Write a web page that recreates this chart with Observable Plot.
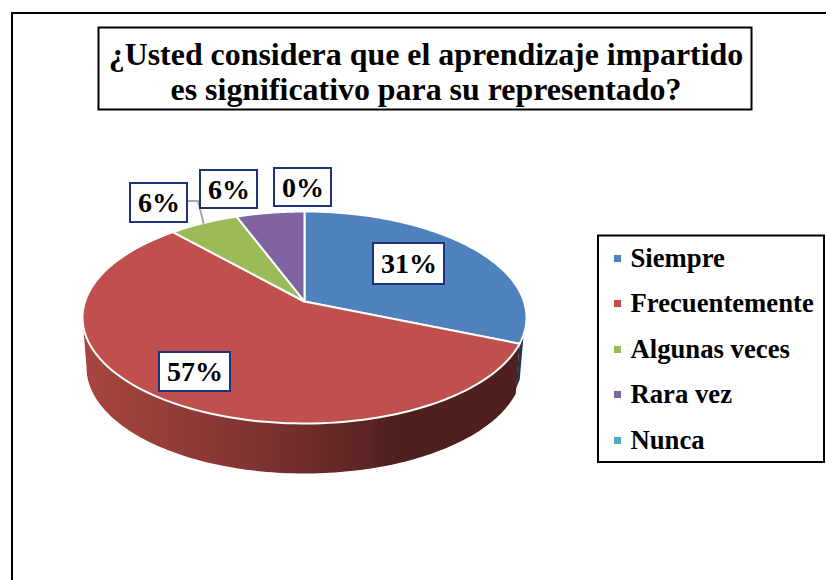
<!DOCTYPE html>
<html>
<head>
<meta charset="utf-8">
<script src="https://cdn.jsdelivr.net/npm/d3@7"></script>
<script src="https://cdn.jsdelivr.net/npm/@observablehq/plot@0.6"></script>
<style>html,body{margin:0;padding:0;background:#fff}svg{display:block}</style>
</head>
<body>
<div id="chart"></div>
<script>
const titleLines = ["¿Usted considera que el aprendizaje impartido", "es significativo para su representado?"];
const categories = ["Siempre", "Frecuentemente", "Algunas veces", "Rara vez", "Nunca"];
const values = [31, 57, 6, 6, 0];
const colours = ["#4f81bd", "#c0504d", "#9bbb59", "#8064a2", "#4bacc6"];

// Layout of the tilted disc, in page units
const pie = {cx: 304, cy: 317, rx: 222, ry: 106, apexY: 301, dirRy: 110, depth: 50, bottomRx: 218};
// Data-label boxes, in the order of the categories that have one
const labelBoxes = [
  {x1: 373, x2: 444, y1: 243, y2: 284},
  {x1: 159, x2: 230, y1: 352, y2: 391},
  {x1: 130, x2: 187, y1: 183, y2: 222},
  {x1: 200, x2: 257, y1: 170, y2: 208},
  {x1: 274, x2: 331, y1: 168, y2: 206}
];
const leader = [{x: 187, y: 200.5}, {x: 197.5, y: 200.5}, {x: 203, y: 222.5}];
const legendRowsY = [258, 303, 349, 394, 440];

const total = d3.sum(values);
// angle of the disc rim (measured clockwise from the top, on the ellipse) for a cumulative share
function rimAngle(share) {
  const th = 2 * Math.PI * share;
  if (share === 0 || share === 1) return th;
  const dx = Math.sin(th) * pie.rx, dy = -Math.cos(th) * pie.dirRy, ay = pie.apexY - pie.cy;
  const a = (dx / pie.rx) ** 2 + (dy / pie.ry) ** 2;
  const b = 2 * ay * dy / pie.ry ** 2;
  const c = (ay / pie.ry) ** 2 - 1;
  const t = (-b + Math.sqrt(b * b - 4 * a * c)) / (2 * a);
  const px = dx * t / pie.rx, py = (ay + dy * t) / pie.ry;
  let phi = Math.atan2(px, -py);
  if (phi < 0) phi += 2 * Math.PI;
  return phi;
}
const rimPoint = (phi, down = 0, rx = pie.rx) => ({x: pie.cx + rx * Math.sin(phi), y: pie.cy - pie.ry * Math.cos(phi) + down});
const arc = (a, b, down = 0, rx = pie.rx) => d3.range(0, 121).map(i => rimPoint(a + (b - a) * i / 120, down, rx));

// Top-face slices
let cum = 0;
const slicePts = [];
categories.forEach((c, i) => {
  if (values[i] === 0) return;
  const a = rimAngle(cum / total);
  cum += values[i];
  const b = rimAngle(cum / total);
  const apex = {x: pie.cx, y: pie.apexY};
  [apex, ...arc(a, b), apex].forEach(p => slicePts.push({...p, category: c}));
});

// Side wall: only the front half of the rim shows
const split = rimAngle(values[0] / total);
const redSide = [...arc(split, 3 * Math.PI / 2), ...arc(3 * Math.PI / 2, split, pie.depth, pie.bottomRx)];
const blueSide = [...arc(Math.PI / 2 + 0.16, split), ...arc(split, Math.PI / 2 + 0.16, pie.depth - 5, pie.bottomRx)];

const gradient = () => {
  const defs = d3.create("svg:defs");
  const g = defs.append("linearGradient").attr("id", "sideGrad").attr("gradientUnits", "userSpaceOnUse")
    .attr("x1", pie.cx - pie.rx).attr("x2", pie.cx + pie.rx).attr("y1", 0).attr("y2", 0);
  [[0, "#a7463f"], [0.25, "#8f3a36"], [0.5, "#702d2c"], [0.72, "#4e201d"], [1, "#4e1f1c"]]
    .forEach(([o, c]) => g.append("stop").attr("offset", o).attr("stop-color", c));
  return defs.node();
};

const font = {fontFamily: "Liberation Serif", fontWeight: "bold", fill: "black"};
const plot = Plot.plot({
  width: 826, height: 580,
  margin: 0,
  x: {domain: [0, 826], range: [0, 826], axis: null},
  y: {domain: [0, 580], range: [0, 580], axis: null},
  color: {domain: categories, range: colours},
  style: {background: "white", fontFamily: "Liberation Serif"},
  marks: [
    gradient,
    // chart frame
    Plot.ruleX([11.5], {y1: 12.5, y2: 580, stroke: "black", strokeWidth: 2}),
    Plot.ruleY([12.5], {x1: 11, x2: 826, stroke: "black", strokeWidth: 2}),
    // title
    Plot.rect([0], {x1: () => 98.5, x2: () => 751.5, y1: () => 27.5, y2: () => 109.5, fill: "white", stroke: "black", strokeWidth: 2}),
    Plot.text(titleLines, {x: () => 425.5, y: (d, i) => 54 + i * 35, text: d => d, fontSize: 31.9, ...font}),
    // pie
    Plot.line(blueSide, {x: "x", y: "y", fill: "#1b3555", stroke: "none"}),
    Plot.line(redSide, {x: "x", y: "y", fill: "url(#sideGrad)", stroke: "none"}),
    Plot.line(slicePts, {x: "x", y: "y", z: "category", fill: "category", stroke: "white", strokeWidth: 2, strokeLinejoin: "round"}),
    // leader line
    Plot.line(leader, {x: "x", y: "y", stroke: "#a6a6a6", strokeWidth: 2}),
    // data labels
    Plot.rect(labelBoxes, {x1: "x1", x2: "x2", y1: "y1", y2: "y2", fill: "white", stroke: "#1c3578", strokeWidth: 2}),
    Plot.text(values, {
      x: (d, i) => (labelBoxes[i].x1 + labelBoxes[i].x2) / 2,
      y: (d, i) => (labelBoxes[i].y1 + labelBoxes[i].y2) / 2 + 0.5,
      text: d => `${d}%`, fontSize: 28, ...font
    }),
    // legend
    Plot.rect([0], {x1: () => 598, x2: () => 824, y1: () => 235.5, y2: () => 462, fill: "white", stroke: "black", strokeWidth: 2}),
    Plot.dot(categories, {x: () => 617, y: (d, i) => legendRowsY[i], fill: d => d, symbol: "square", r: 4, stroke: "none"}),
    Plot.text(categories, {x: () => 630, y: (d, i) => legendRowsY[i], text: d => d, textAnchor: "start", fontSize: 26.7, ...font})
  ]
});
document.getElementById("chart").append(plot);
</script>
</body>
</html>
